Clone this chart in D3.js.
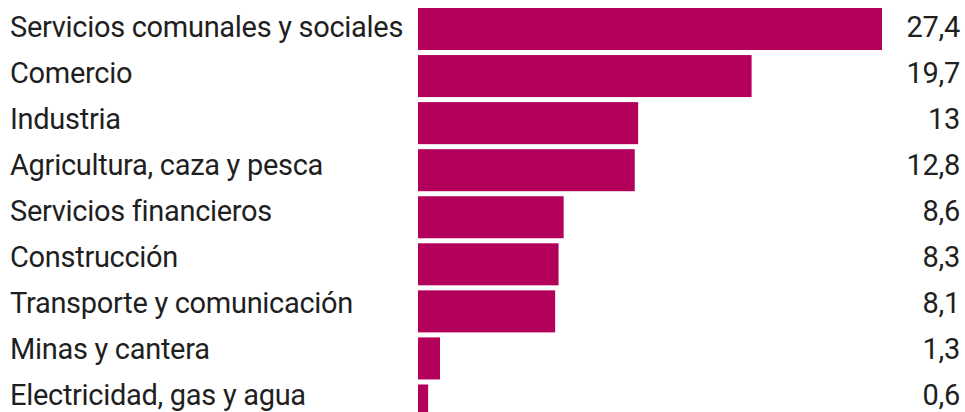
<!DOCTYPE html>
<html><head><meta charset="utf-8">
<script src="https://cdn.jsdelivr.net/npm/d3@7"></script>
<style>body{margin:0;background:#fff}svg{display:block}</style>
</head><body>
<script>
const categories = ["Servicios comunales y sociales","Comercio","Industria","Agricultura, caza y pesca","Servicios financieros","Construcción","Transporte y comunicación","Minas y cantera","Electricidad, gas y agua"];
const values = [27.4,19.7,13,12.8,8.6,8.3,8.1,1.3,0.6];
const valueLabels = ["27,4","19,7","13","12,8","8,6","8,3","8,1","1,3","0,6"];

const W = 965, H = 412;
const svg = d3.select("body").append("svg").attr("width", W).attr("height", H);
const x = d3.scaleLinear().domain([0, 27.4]).range([418, 882]);
const y = d3.scaleBand().domain(categories).range([8, 8 + 9 * 46.5]).paddingInner(0.107).paddingOuter(0);
const yText = d3.scaleBand().domain(categories).range([8, 8 + 9 * 46]).padding(0);
const font = "Roboto, 'Open Sans', sans-serif";

svg.selectAll("rect").data(values).join("rect")
  .attr("x", x(0)).attr("y", (d,i) => y(categories[i]))
  .attr("width", d => x(d) - x(0)).attr("height", y.bandwidth())
  .attr("fill", "#b3005a");

svg.selectAll("text.cat").data(categories).join("text").attr("class","cat")
  .attr("x", 10).attr("y", d => yText(d) + 29.3)
  .attr("font-family", font).attr("font-size", 29).attr("letter-spacing", -0.3)
  .attr("fill", "#1f1f1f").text(d => d);

svg.selectAll("text.val").data(valueLabels).join("text").attr("class","val")
  .attr("x", 960).attr("y", (d,i) => yText(categories[i]) + 29.3)
  .attr("text-anchor", "end")
  .attr("font-family", font).attr("font-size", 29).attr("letter-spacing", -0.3)
  .attr("fill", "#1f1f1f").text(d => d);
</script>
</body></html>
